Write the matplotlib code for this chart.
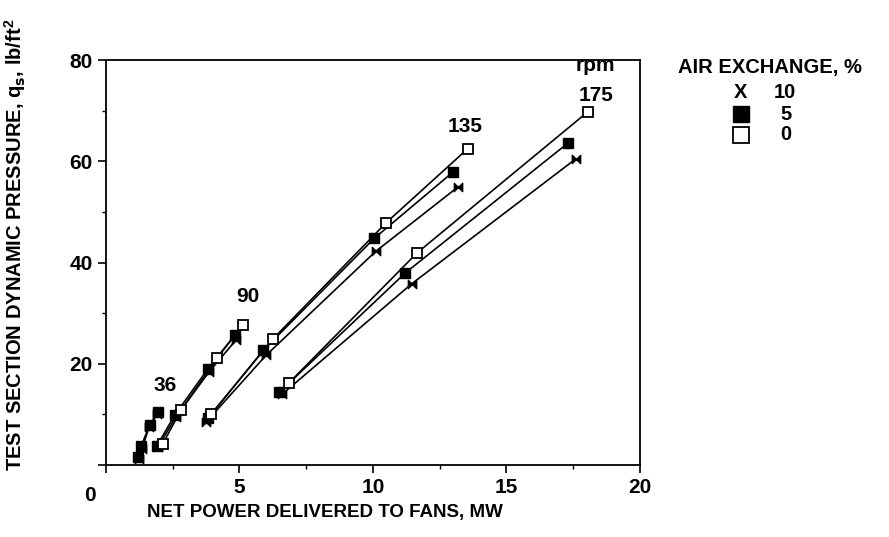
import matplotlib.pyplot as plt
from matplotlib.path import Path
from matplotlib.ticker import MultipleLocator

plt.rcParams['font.family'] = ['Liberation Sans', 'DejaVu Sans']
plt.rcParams['font.weight'] = 'bold'
plt.rcParams['axes.labelweight'] = 'bold'

# data, one curve per rpm and air exchange
rpm_labels = ['36', '90', '135', '175']

# 10 % air exchange
x10_36 = [1.25, 1.35, 1.62, 1.92]
y10_36 = [1.2, 3.2, 7.6, 10.0]
x10_90 = [1.95, 2.62, 3.86, 4.87]
y10_90 = [3.6, 9.5, 18.4, 24.7]
x10_135 = [3.75, 6.0, 10.1, 13.2]
y10_135 = [8.5, 21.7, 42.2, 55.0]
x10_175 = [6.6, 11.45, 17.6]
y10_175 = [14.0, 35.8, 60.5]

# 5 % air exchange
x5_36 = [1.2, 1.32, 1.65, 1.95]
y5_36 = [1.6, 3.8, 8.0, 10.4]
x5_90 = [1.91, 2.58, 3.82, 4.83]
y5_90 = [3.8, 9.9, 19.0, 25.7]
x5_135 = [3.82, 5.9, 10.05, 13.0]
y5_135 = [9.2, 22.7, 44.8, 57.9]
x5_175 = [6.5, 11.2, 17.3]
y5_175 = [14.4, 37.9, 63.6]

# 0 % air exchange
x0_90 = [2.13, 2.81, 4.16, 5.13]
y0_90 = [4.2, 10.9, 21.1, 27.7]
x0_135 = [3.93, 6.25, 10.5, 13.55]
y0_135 = [10.0, 24.9, 47.9, 62.5]
x0_175 = [6.85, 11.65, 18.05]
y0_175 = [16.2, 41.9, 69.8]

bowtie = Path([(-1, 1), (-1, -1), (1, 1), (1, -1), (-1, 1)],
              [Path.MOVETO, Path.LINETO, Path.LINETO, Path.LINETO, Path.CLOSEPOLY])

fig = plt.figure(figsize=(8.89, 5.37), dpi=100)
ax = fig.add_axes([0.1192, 0.134, 0.6006, 0.754])

for xs, ys in [(x10_36, y10_36), (x10_90, y10_90), (x10_135, y10_135), (x10_175, y10_175)]:
    ax.plot(xs, ys, color='black', lw=1.2, marker=bowtie, ms=6, mfc='black', mec='black')
for xs, ys in [(x5_36, y5_36), (x5_90, y5_90), (x5_135, y5_135), (x5_175, y5_175)]:
    ax.plot(xs, ys, color='black', lw=1.2, marker='s', ms=6.5, mfc='black', mec='black')
for xs, ys in [(x0_90, y0_90), (x0_135, y0_135), (x0_175, y0_175)]:
    ax.plot(xs, ys, color='black', lw=1.2, marker='s', ms=6.5, mfc='white', mec='black', mew=1.3)

ax.set_xlim(0, 20)
ax.set_ylim(0, 80)
ax.xaxis.set_minor_locator(MultipleLocator(2.5))
ax.yaxis.set_minor_locator(MultipleLocator(10))
ax.set_xticks([0, 5, 10, 15, 20])
ax.set_xticklabels(['', '5', '10', '15', '20'])
ax.set_yticks([0, 20, 40, 60, 80])
ax.set_yticklabels(['', '20', '40', '60', '80'])
ax.tick_params(which='major', direction='out', length=6, width=1.2, labelsize=15)
ax.tick_params(which='minor', direction='out', length=3, width=1.0)
for s in ax.spines.values():
    s.set_linewidth(1.3)

ax.text(-0.6, -6, '0', fontsize=15, ha='center', va='center', clip_on=False)

ax.set_xlabel('NET POWER DELIVERED TO FANS, MW', fontsize=13.5)
ax.xaxis.set_label_coords(0.41, -0.095)
ax.set_ylabel('TEST SECTION DYNAMIC PRESSURE, q$_\\mathbf{s}$, $\\mathregular{lb/ft^2}$',
              fontsize=14.5)
ax.yaxis.set_label_coords(-0.146, 0.545)

ax.text(2.2, 15.8, rpm_labels[0], fontsize=15, ha='center', va='center')
ax.text(5.3, 33.3, rpm_labels[1], fontsize=15, ha='center', va='center')
ax.text(13.45, 66.8, rpm_labels[2], fontsize=15, ha='center', va='center')
ax.text(18.35, 73.1, rpm_labels[3], fontsize=15, ha='center', va='center')
ax.text(18.35, 78.9, 'rpm', fontsize=15, ha='center', va='center')

# legend drawn as text
fig.text(770 / 889, 1 - 67 / 537, 'AIR EXCHANGE, %', fontsize=14.5, ha='center', va='center')
fig.text(741 / 889, 1 - 92 / 537, 'X', fontsize=14.5, ha='center', va='center')
fig.text(785 / 889, 1 - 92 / 537, '10', fontsize=14.5, ha='center', va='center')
fig.text(786 / 889, 1 - 114 / 537, '5', fontsize=14.5, ha='center', va='center')
fig.text(786 / 889, 1 - 135 / 537, '0', fontsize=14.5, ha='center', va='center')
ax.plot([741 / 889], [1 - 114 / 537], transform=fig.transFigure, marker='s', ms=12,
        mfc='black', mec='black', clip_on=False)
ax.plot([741 / 889], [1 - 135 / 537], transform=fig.transFigure, marker='s', ms=12,
        mfc='white', mec='black', mew=1.3, clip_on=False)

fig.savefig('out.png', dpi=100)
